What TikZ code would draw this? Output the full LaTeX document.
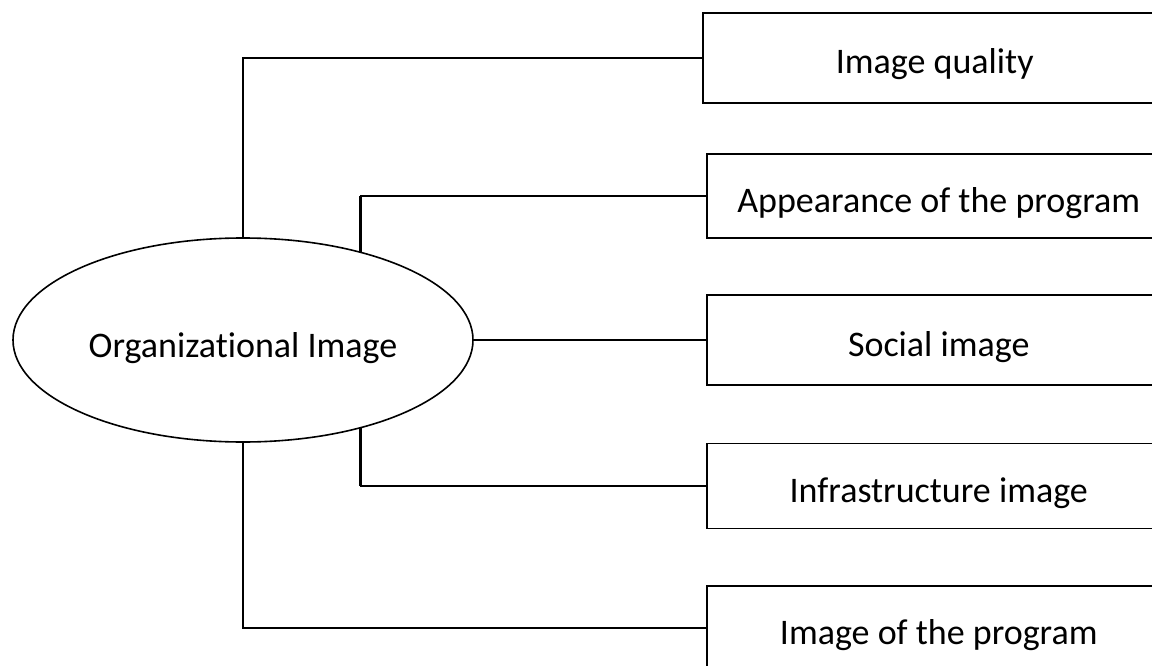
\documentclass[tikz,border=0pt]{standalone}
\usepackage{fontspec}
\setmainfont[Ligatures=NoCommon]{Carlito}
\usetikzlibrary{shapes.geometric}

\tikzset{
  link/.style={draw=black, line width=1.3pt},
  stub/.style={draw=black, line width=2.4pt},
  itembox/.style={draw=black, line width=1.5pt, rectangle, anchor=west,
    minimum width=464pt, inner sep=0pt, text height=32pt, text depth=0pt,
    font=\fontsize{36}{40}\selectfont},
  hub/.style={draw=black, line width=1.6pt, ellipse, minimum width=460pt,
    minimum height=204pt, inner sep=0pt, font=\fontsize{36}{40}\selectfont}
}

\begin{document}
\begin{tikzpicture}[x=1pt, y=-1pt]
  \useasboundingbox (0,0) rectangle (1152,666);
  \clip (0,0) rectangle (1152,666);

  % central concept
  \node[hub, text height=34pt, text depth=0pt] (oi) at (243,340) {Organizational Image};

  % dimension boxes (their right sides run past the page edge)
  \node[itembox, minimum height=90pt] (b1) at (702,58)  {Image quality};
  \node[itembox, minimum height=84pt] (b2) at (706,196) {Appearance of the program};
  \node[itembox, minimum height=90pt] (b3) at (706,340) {Social image};
  \node[itembox, minimum height=85pt] (b4) at (706,486) {Infrastructure image};
  \node[itembox, minimum height=84pt] (b5) at (706,628) {Image of the program};

  % connectors
  \draw[link] (oi.north) |- (b1.west);
  \draw[link] (oi.37.5) |- (b2.west);
  \draw[stub] (oi.37.5) -- (oi.37.5 |- b2.west);
  \draw[link] (oi.east) -- (b3.west);
  \draw[link] (oi.-37.5) |- (b4.west);
  \draw[stub] (oi.-37.5) -- (oi.-37.5 |- b4.west);
  \draw[link] (oi.south) |- (b5.west);
\end{tikzpicture}
\end{document}
